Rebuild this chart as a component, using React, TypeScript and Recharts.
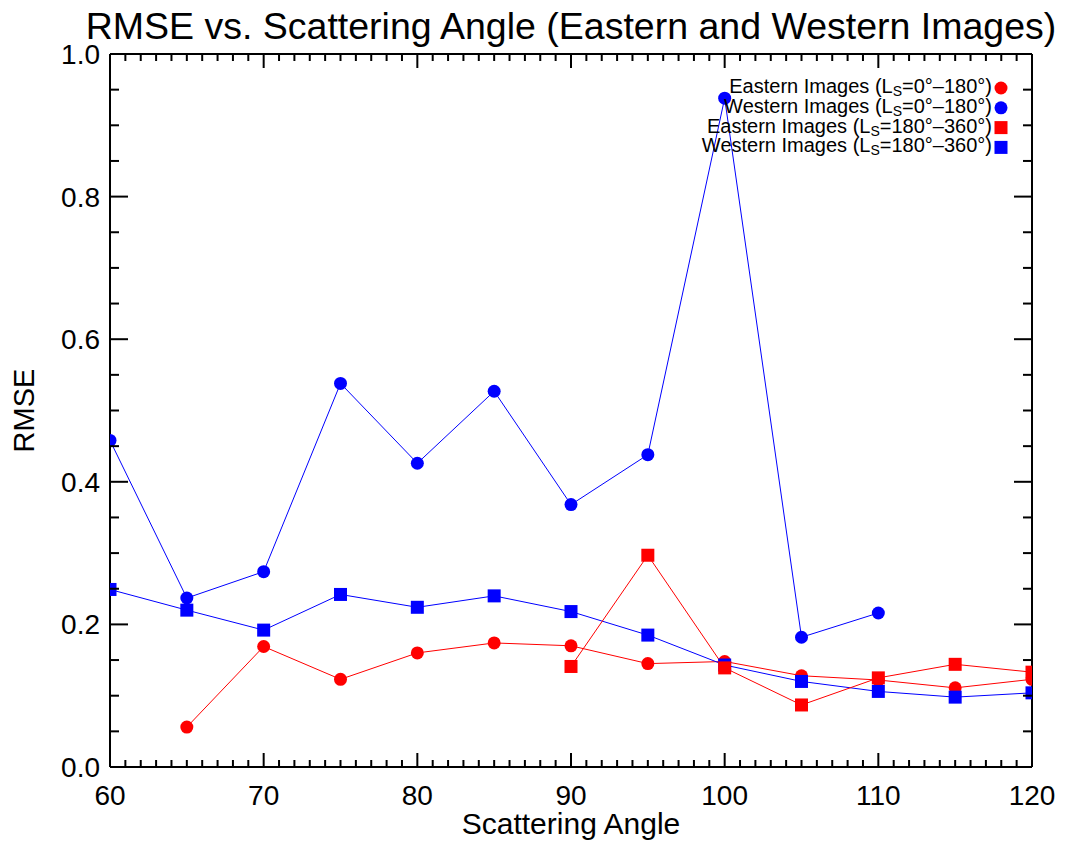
import React from "react";
import { LineChart, Line, XAxis, YAxis } from "recharts";

const FONT = '"Liberation Sans", Arial, Helvetica, sans-serif';

// scattering angles (deg), one RMSE value per angle, null where not plotted
const angles = [60, 65, 70, 75, 80, 85, 90, 95, 100, 105, 110, 115, 120];
const easternEarly = [null, 0.056, 0.169, 0.123, 0.16, 0.174, 0.17, 0.145, 0.148, 0.128, 0.122, 0.111, 0.123];
const westernEarly = [0.458, 0.237, 0.274, 0.538, 0.426, 0.527, 0.368, 0.438, 0.938, 0.182, 0.216, null, null];
const westernLate = [0.249, 0.22, 0.192, 0.242, 0.224, 0.24, 0.218, 0.185, 0.143, 0.12, 0.106, 0.098, 0.104];
const easternLate = [null, null, null, null, null, null, 0.141, 0.297, 0.139, 0.087, 0.125, 0.144, 0.133];

// every integer angle gets a tick, labels on multiples of 10; RMSE ticks every 0.05, labels every 0.2
const xTicks = Array.from({ length: 61 }, (_, i) => 60 + i);
const yTicks = Array.from({ length: 21 }, (_, i) => i * 0.05);

const rows = angles.map((a, i) => ({
  angle: a,
  eEarly: easternEarly[i],
  wEarly: westernEarly[i],
  wLate: westernLate[i],
  eLate: easternLate[i],
}));

type Shape = "circle" | "square";
// drawing order matters: squares sit on top of circles where they overlap
const series: { key: string; label: [string, string]; color: string; shape: Shape }[] = [
  { key: "eEarly", label: ["Eastern Images (L", "=0°–180°)"], color: "#ff0000", shape: "circle" },
  { key: "wEarly", label: ["Western Images (L", "=0°–180°)"], color: "#0000ff", shape: "circle" },
  { key: "wLate", label: ["Western Images (L", "=180°–360°)"], color: "#0000ff", shape: "square" },
  { key: "eLate", label: ["Eastern Images (L", "=180°–360°)"], color: "#ff0000", shape: "square" },
];
const legendOrder = ["eEarly", "wEarly", "eLate", "wLate"];

const W = 1057;
const H = 838;
// each axis below is 1px thick, so the plot box ends up at margin + 1
const M = { top: 45, right: 32, bottom: 78, left: 101 };

const AX = { stroke: "#000", strokeWidth: 2 };
const isXMajor = (v: number) => v % 10 === 0;
const isYMajor = (v: number) => Math.round(v * 20) % 4 === 0;

// IDL style: tick marks point into the plot box
const BottomTick = (p: any) => {
  const v = p.payload.value;
  const major = isXMajor(v);
  return (
    <g>
      <line x1={p.x} x2={p.x} y1={p.y} y2={p.y - (major ? 14 : 7)} {...AX} />
      {major && (
        <text x={p.x} y={p.y + 38} textAnchor="middle" fontSize={28} fontFamily={FONT} fill="#000">
          {v}
        </text>
      )}
    </g>
  );
};
const TopTick = (p: any) => {
  const major = isXMajor(p.payload.value);
  return <line x1={p.x} x2={p.x} y1={p.y} y2={p.y + (major ? 14 : 7)} {...AX} />;
};
const LeftTick = (p: any) => {
  const v = p.payload.value;
  const major = isYMajor(v);
  return (
    <g>
      <line x1={p.x} x2={p.x + (major ? 18 : 9)} y1={p.y} y2={p.y} {...AX} />
      {major && (
        <text x={p.x - 10} y={p.y + 10} textAnchor="end" fontSize={28} fontFamily={FONT} fill="#000">
          {v.toFixed(1)}
        </text>
      )}
    </g>
  );
};
const RightTick = (p: any) => {
  const major = isYMajor(p.payload.value);
  return <line x1={p.x} x2={p.x - (major ? 18 : 9)} y1={p.y} y2={p.y} {...AX} />;
};

function marker(shape: Shape, color: string, cx: number, cy: number, key?: React.Key) {
  if (shape === "circle") return <circle key={key} cx={cx} cy={cy} r={6.5} fill={color} />;
  return <rect key={key} x={cx - 6.5} y={cy - 6.5} width={13} height={13} fill={color} />;
}

function makeDot(shape: Shape, color: string) {
  return (p: any) => {
    if (p.cx == null || p.cy == null || p.value == null) return <g key={p.index} />;
    return marker(shape, color, p.cx, p.cy, p.index);
  };
}

export default function App() {
  const plotCx = M.left + 1 + (W - M.left - M.right - 2) / 2;
  const plotCy = M.top + 1 + (H - M.top - M.bottom - 2) / 2;
  return (
    <div style={{ position: "relative", width: W, height: H, fontFamily: FONT }}>
      <LineChart width={W} height={H} data={rows} margin={M}>
        <XAxis xAxisId="x" dataKey="angle" type="number" domain={[60, 120]} allowDataOverflow ticks={xTicks}
          interval={0} height={1} tickSize={0} tickMargin={0} tickLine={false} axisLine={AX} tick={BottomTick} />
        <XAxis xAxisId="top" orientation="top" dataKey="angle" type="number" domain={[60, 120]} allowDataOverflow
          ticks={xTicks} interval={0} height={1} tickSize={0} tickMargin={0} tickLine={false} axisLine={AX} tick={TopTick} />
        <YAxis yAxisId="y" type="number" domain={[0, 1]} allowDataOverflow ticks={yTicks} interval={0}
          width={1} tickSize={0} tickMargin={0} tickLine={false} axisLine={AX} tick={LeftTick} />
        <YAxis yAxisId="right" orientation="right" type="number" domain={[0, 1]} allowDataOverflow ticks={yTicks}
          interval={0} width={1} tickSize={0} tickMargin={0} tickLine={false} axisLine={AX} tick={RightTick} />

        {series.map((s) => (
          <Line
            key={s.key}
            xAxisId="x"
            yAxisId="y"
            dataKey={s.key}
            stroke={s.color}
            strokeWidth={1}
            dot={makeDot(s.shape, s.color)}
            activeDot={false}
            isAnimationActive={false}
          />
        ))}
      </LineChart>

      <svg width={W} height={H} style={{ position: "absolute", left: 0, top: 0, pointerEvents: "none" }}
        fontFamily={FONT}>
        <text x={plotCx} y={31} textAnchor="middle" fontSize={37.5} fill="#000">
          RMSE vs. Scattering Angle (Eastern and Western Images)
        </text>
        <text x={plotCx} y={826} textAnchor="middle" fontSize={30} fill="#000">
          Scattering Angle
        </text>
        <text transform={`translate(26, ${plotCy}) rotate(-90)`} textAnchor="middle" fontSize={29} fill="#000">
          RMSE
        </text>
        {legendOrder.map((k, i) => {
          const s = series.find((d) => d.key === k)!;
          const y = 85 + i * 19.8;
          return (
            <g key={k}>
              <text x={984} y={y} textAnchor="end" fontSize={20} fill="#000">
                <tspan>{s.label[0]}</tspan>
                <tspan dy={3} fontSize={14}>S</tspan>
                <tspan dy={-3}>{s.label[1]}</tspan>
              </text>
              {marker(s.shape, s.color, 993, y - 5)}
            </g>
          );
        })}
      </svg>
    </div>
  );
}
